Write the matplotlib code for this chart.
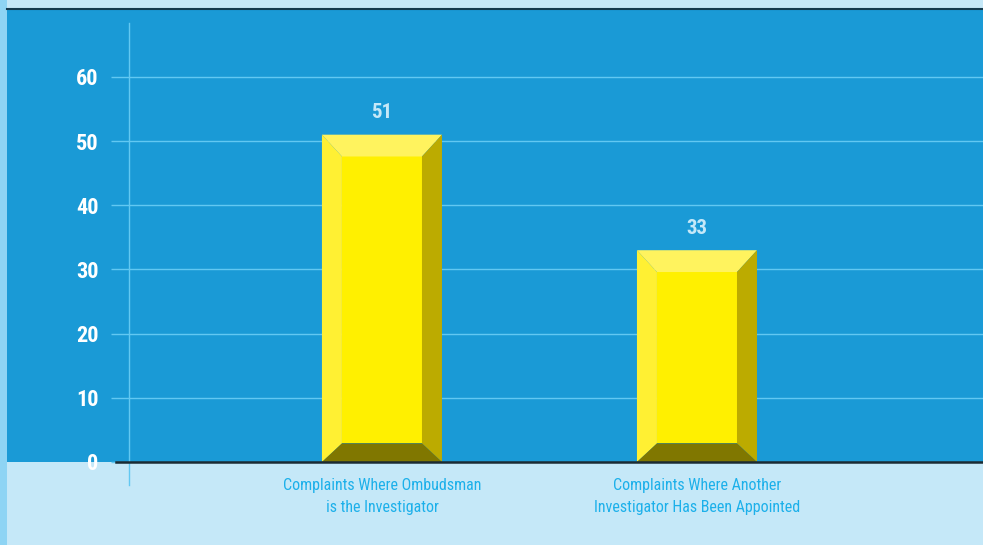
import matplotlib
matplotlib.use("Agg")
import matplotlib.pyplot as plt
from matplotlib.patches import Polygon, Rectangle
from matplotlib.lines import Line2D

categories = ["Complaints Where Ombudsman\nis the Investigator",
              "Complaints Where Another\nInvestigator Has Been Appointed"]
values = [51, 33]
yticks = [0, 10, 20, 30, 40, 50, 60]

FONT = ['Roboto Condensed', 'Liberation Sans', 'DejaVu Sans']
plt.rcParams['font.family'] = FONT

W, H = 983, 545
fig = plt.figure(figsize=(W / 100, H / 100), dpi=100)
fig.patch.set_facecolor('#C5E8F8')

# left light strip
fig.patches.append(Rectangle((0, 0), 7 / W, 1, transform=fig.transFigure,
                             facecolor='#8ED4F4', edgecolor='none', zorder=-10))
# dark blue panel
fig.patches.append(Rectangle((7 / W, 1 - 462 / H), 1 - 7 / W, (462 - 9) / H,
                             transform=fig.transFigure, facecolor='#1A9AD6',
                             edgecolor='none', zorder=-10))
# dark top line
fig.lines.append(Line2D([7 / W, 1], [1 - 8.5 / H, 1 - 8.5 / H], transform=fig.transFigure,
                        color='#143A4E', lw=1.5, zorder=-5))

ax = fig.add_axes([129 / W, 1 - 462 / H, 1 - 129 / W, (462 - 23) / H])
ax.set_facecolor('none')
ax.set_xlim(-0.803, 1.908)
ax.set_ylim(0, 68.4)

grid_c = '#62C8F2'
for t in yticks[1:]:
    ax.axhline(t, color=grid_c, lw=1, zorder=1)

for s in ['top', 'right', 'bottom']:
    ax.spines[s].set_visible(False)
ax.spines['left'].set_color(grid_c)
ax.spines['left'].set_linewidth(1)

ax.set_yticks(yticks)
ax.set_yticklabels([str(t) for t in yticks])
ax.tick_params(axis='y', length=13, width=1, color=grid_c, pad=9,
               labelcolor='white', labelsize=16)
for lbl in ax.get_yticklabels():
    lbl.set_fontweight('bold')
ax.set_xticks([])

# y axis extension below zero
fig.lines.append(Line2D([129 / W, 129 / W], [1 - 485 / H, 1 - 462 / H], transform=fig.transFigure,
                        color=grid_c, lw=1, zorder=2))
# zero line
fig.lines.append(Line2D([116 / W, 1], [1 - 462 / H, 1 - 462 / H], transform=fig.transFigure,
                        color='#1B2B33', lw=1.8, zorder=5))

bw = 0.381
bx = 0.0635   # horizontal bevel (data units)
byt = 3.4     # top bevel
byb = 2.9     # bottom bevel
for i, v in enumerate(values):
    l, r = i - bw / 2, i + bw / 2
    ax.add_patch(Polygon([(l + bx, byb), (r - bx, byb), (r - bx, v - byt), (l + bx, v - byt)],
                         closed=True, facecolor='#FFF000', edgecolor='none', zorder=3))
    ax.add_patch(Polygon([(l, v), (r, v), (r - bx, v - byt), (l + bx, v - byt)],
                         closed=True, facecolor='#FFF35E', edgecolor='none', zorder=3))
    ax.add_patch(Polygon([(l, v), (l + bx, v - byt), (l + bx, byb), (l, 0)],
                         closed=True, facecolor='#FFF033', edgecolor='none', zorder=3))
    ax.add_patch(Polygon([(r, v), (r - bx, v - byt), (r - bx, byb), (r, 0)],
                         closed=True, facecolor='#BCAB00', edgecolor='none', zorder=3))
    ax.add_patch(Polygon([(l, 0), (r, 0), (r - bx, byb), (l + bx, byb)],
                         closed=True, facecolor='#807700', edgecolor='none', zorder=3))
    ax.annotate(str(v), (i, v), xytext=(0, 9), textcoords='offset points',
                ha='center', va='bottom', color='#C5E8F8', fontsize=15,
                fontweight='bold', zorder=6)
    ax.annotate(categories[i], (i, 0), xytext=(0, -11.5), textcoords='offset points',
                ha='center', va='top', color='#1CB0EA', fontsize=11.5,
                linespacing=1.6, annotation_clip=False, zorder=6)

fig.savefig('out.png', dpi=100, facecolor=fig.get_facecolor())
